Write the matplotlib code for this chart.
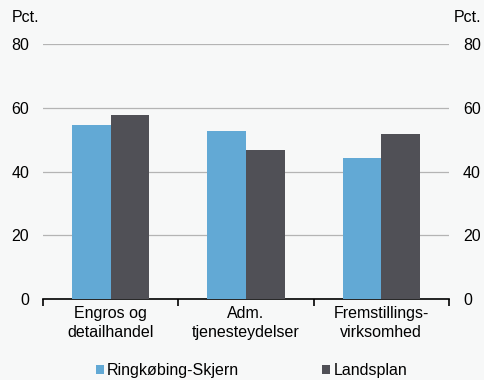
import matplotlib.pyplot as plt
import numpy as np

plt.rcParams["font.family"] = ["Liberation Sans", "DejaVu Sans"]

# data
categories = ["Engros og\ndetailhandel", "Adm.\ntjenesteydelser", "Fremstillings-\nvirksomhed"]
ringkobing = [54.5, 52.6, 44.2]
landsplan = [57.8, 46.7, 51.8]
series_names = ["Ringkøbing-Skjern", "Landsplan"]
yticks = [0, 20, 40, 60, 80]

blue = "#62a9d5"
dark = "#505056"
bg = "#f7f8f8"
fs = 11.5

fig = plt.figure(figsize=(4.85, 3.8), dpi=100, facecolor=bg)
ax = fig.add_axes([0.0887, 0.2132, 0.8371, 0.6708], facecolor=bg)

x = np.arange(len(categories))
w = 0.286
ax.bar(x - w / 2, ringkobing, w, color=blue, label=series_names[0], zorder=3)
ax.bar(x + w / 2, landsplan, w, color=dark, label=series_names[1], zorder=3)

ax.set_xlim(-0.5, len(categories) - 0.5)
ax.set_ylim(0, 80)
ax.set_yticks(yticks)
ax.yaxis.grid(True, color="#b4b4b4", linewidth=0.9, zorder=0)
for s in ["top", "left", "right"]:
    ax.spines[s].set_visible(False)
ax.spines["bottom"].set_color("black")
ax.spines["bottom"].set_linewidth(1.2)

ax.set_xticks(x)
ax.set_xticklabels(categories, fontsize=fs, linespacing=1.3)
ax.set_xticks(np.arange(len(categories) + 1) - 0.5, minor=True)
ax.tick_params(axis="x", which="major", length=0, pad=5)
ax.tick_params(axis="x", which="minor", length=5, width=1.2, color="black", direction="out")
ax.tick_params(axis="y", length=0, labelsize=fs, pad=10, labelright=True)
ax.tick_params(axis="y", which="both", right=False)

fig.text(12 / 485, 1 - 18 / 380, "Pct.", fontsize=fs, va="center", ha="left")
fig.text(481 / 485, 1 - 18 / 380, "Pct.", fontsize=fs, va="center", ha="right")

ax.legend(loc="center", bbox_to_anchor=(0.5135, -0.282), ncol=2, frameon=False,
          fontsize=fs, handlelength=0.5, handleheight=0.5, handletextpad=0.2,
          columnspacing=5.2, borderpad=0, borderaxespad=0)

fig.savefig("out.png", dpi=100, facecolor=bg)
